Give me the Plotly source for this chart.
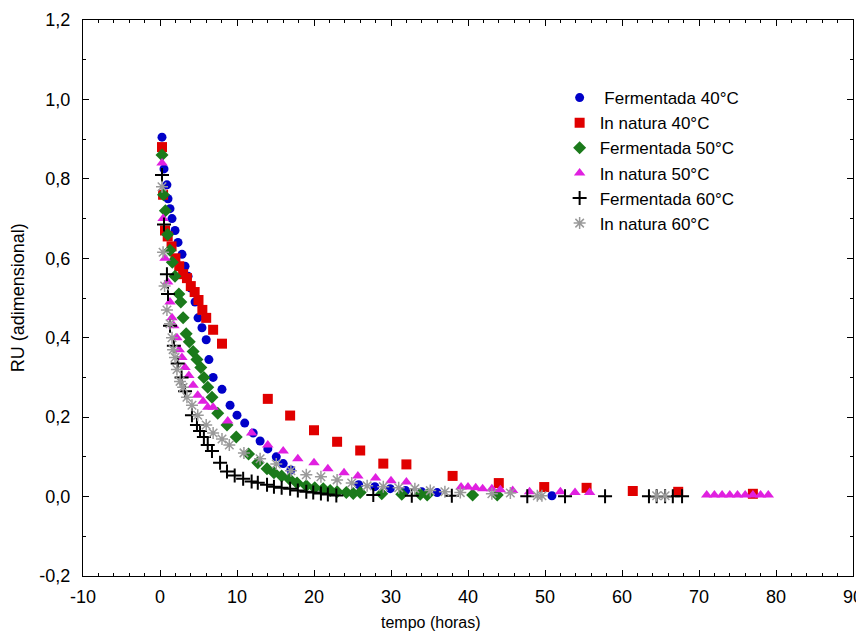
import plotly.graph_objects as go

# Fermentada 40°C
f40_x = [0.26, 0.52, 0.9, 1.04, 1.3, 1.56, 1.95, 2.34, 2.86, 3.25, 3.64, 4.0, 4.55, 4.94, 5.45, 6.0, 6.35, 6.9,
         8.05, 9.1, 10.0, 11.0, 12.1, 13.0, 14.0, 15.1, 16.0, 17.0, 25.8, 27.9, 29.9, 31.9, 34.0, 36.0, 50.9]
f40_y = [0.905, 0.825, 0.785, 0.75, 0.725, 0.70, 0.67, 0.64, 0.61, 0.58, 0.555, 0.525, 0.49, 0.45, 0.425, 0.395, 0.345, 0.30,
         0.27, 0.23, 0.205, 0.185, 0.16, 0.14, 0.12, 0.10, 0.083, 0.067, 0.03, 0.025, 0.02, 0.015, 0.012, 0.01, 0.002]

# In natura 40°C
n40_x = [0.26, 0.4, 0.65, 1.0, 1.5, 2.0, 2.5, 3.0, 3.5, 4.0, 4.5, 5.0, 5.5, 6.0, 6.9, 8.05,
         14.0, 16.9, 20.0, 23.0, 26.0, 29.0, 32.0, 38.0, 44.0, 49.9, 55.4, 61.4, 67.3, 77.0]
n40_y = [0.88, 0.76, 0.67, 0.655, 0.63, 0.60, 0.58, 0.56, 0.55, 0.53, 0.515, 0.495, 0.47, 0.45, 0.42, 0.385,
         0.246, 0.204, 0.167, 0.138, 0.116, 0.083, 0.081, 0.052, 0.034, 0.024, 0.022, 0.014, 0.012, 0.007]

# Fermentada 50°C
f50_x = [0.26, 0.45, 0.7, 1.0, 1.3, 1.6, 1.95, 2.45, 2.7, 3.0, 3.4, 3.8, 4.3, 4.8, 5.3, 5.7, 6.2, 6.75, 7.5, 8.7, 9.9,
         11.5, 12.7, 13.9, 14.8, 15.8, 16.8, 17.8, 19.0, 20.1, 21.2, 22.1, 23.0, 24.2, 25.1, 26.0, 28.8, 31.4, 33.8, 34.7, 40.6, 43.8]
f50_y = [0.86, 0.76, 0.72, 0.66, 0.62, 0.59, 0.555, 0.51, 0.49, 0.45, 0.41, 0.39, 0.365, 0.345, 0.325, 0.30, 0.275, 0.25, 0.21, 0.18, 0.15,
         0.107, 0.085, 0.07, 0.06, 0.052, 0.044, 0.034, 0.027, 0.022, 0.02, 0.015, 0.012, 0.01, 0.008, 0.01, 0.007, 0.006, 0.006, 0.004, 0.004, 0.004]

# In natura 50°C
n50_x = [0.26, 0.4, 0.65, 1.0, 1.3, 1.56, 1.8, 2.2, 2.5, 2.85, 3.25, 3.75, 4.3, 4.9, 5.6, 6.2, 6.9, 8.8,
         11.9, 14.0, 16.0, 17.9, 20.0, 21.8, 23.9, 25.7, 28.0, 30.0, 32.0, 39.1, 40.0, 41.0, 41.9, 43.1, 44.2, 45.8,
         48.0, 52.0, 53.9, 55.8, 71.0, 72.0, 73.0, 74.0, 75.0, 76.0, 77.0, 78.0, 79.0]
n50_y = [0.84, 0.70, 0.60, 0.54, 0.49, 0.45, 0.43, 0.40, 0.37, 0.35, 0.325, 0.305, 0.28, 0.255, 0.24, 0.225, 0.225, 0.19,
         0.16, 0.13, 0.115, 0.095, 0.085, 0.07, 0.06, 0.052, 0.047, 0.04, 0.037, 0.024, 0.024, 0.022, 0.02, 0.02, 0.017, 0.015,
         0.012, 0.012, 0.01, 0.01, 0.004, 0.004, 0.004, 0.004, 0.004, 0.004, 0.004, 0.004, 0.004]

# Fermentada 60°C
f60_x = [0.26, 0.52, 0.9, 1.04, 1.3, 1.8, 2.3, 2.8, 3.25, 4.15, 4.8, 5.2, 5.7, 6.2, 6.75, 7.8, 8.7, 9.7, 10.8, 11.9,
         12.7, 13.9, 14.8, 15.8, 16.9, 17.9, 19.0, 19.9, 20.9, 21.8, 22.9, 27.7, 32.7, 37.9, 47.7, 52.6, 57.8,
         63.5, 64.5, 65.6, 66.6, 67.8]
f60_y = [0.81, 0.685, 0.56, 0.51, 0.43, 0.38, 0.335, 0.30, 0.265, 0.205, 0.18, 0.165, 0.15, 0.13, 0.115, 0.085, 0.063, 0.053, 0.045, 0.038,
         0.035, 0.03, 0.025, 0.022, 0.02, 0.015, 0.012, 0.01, 0.008, 0.005, 0.003, 0.004, 0.002, 0.002, 0.001, 0.001, 0.001,
         0.001, 0.001, 0.001, 0.001, 0.001]

# In natura 60°C
n60_x = [0.26, 0.4, 0.6, 0.9, 1.3, 1.56, 1.7, 1.95, 2.2, 2.6, 3.0, 3.5, 4.15, 4.9, 6.0, 6.9, 8.05, 9.0, 10.9, 13.0,
         15.1, 17.0, 19.0, 20.9, 23.0, 24.9, 26.9, 29.0, 31.0, 33.1, 35.1, 37.0, 39.0, 43.1, 45.5, 49.0, 49.6, 64.5, 65.6]
n60_y = [0.78, 0.615, 0.53, 0.47, 0.435, 0.40, 0.37, 0.35, 0.32, 0.29, 0.275, 0.25, 0.23, 0.205, 0.18, 0.16, 0.145, 0.13, 0.11, 0.095,
         0.082, 0.065, 0.055, 0.05, 0.042, 0.034, 0.027, 0.025, 0.022, 0.02, 0.015, 0.012, 0.01, 0.007, 0.009, 0.002, 0.002, 0.002, 0.002]

x_ticks = [-10, 0, 10, 20, 30, 40, 50, 60, 70, 80, 90]
y_ticks = [-0.2, 0.0, 0.2, 0.4, 0.6, 0.8, 1.0, 1.2]

FONT = "Arial, Liberation Sans, sans-serif"

series = [
    ("\u00a0Fermentada 40°C", f40_x, f40_y, dict(symbol="circle", size=9, color="#0000C8")),
    ("In natura 40°C", n40_x, n40_y, dict(symbol="square", size=10, color="#E00000")),
    ("Fermentada 50°C", f50_x, f50_y, dict(symbol="diamond", size=10, color="#1B7A1B")),
    ("In natura 50°C", n50_x, n50_y, dict(symbol="triangle-up", size=10, color="#E020E0")),
    ("Fermentada 60°C", f60_x, f60_y, dict(symbol="cross-thin-open", size=10, color="black",
                                            line=dict(color="black", width=2))),
    ("In natura 60°C", n60_x, n60_y, dict(symbol="asterisk-open", size=10, color="#9A9A9A",
                                           line=dict(color="#9A9A9A", width=1.5))),
]

fig = go.Figure()
for name, xs, ys, mk in series:
    if "line" not in mk:
        mk = dict(mk, line=dict(width=0))
    fig.add_trace(go.Scatter(x=xs, y=ys, mode="markers", name=name, marker=mk))

axis_common = dict(
    showline=True, linecolor="black", linewidth=1, mirror="ticks",
    ticks="inside", ticklen=6, tickcolor="black", tickwidth=1,
    showgrid=False, zeroline=False, automargin=False,
    tickfont=dict(family=FONT, size=18, color="black"),
)

fig.update_xaxes(range=[-10, 90], tickvals=x_ticks, ticktext=[str(v) for v in x_ticks],
                 minor=dict(dtick=2, ticks="inside", ticklen=3, tickcolor="black", showgrid=False),
                 ticklabelstandoff=4, **axis_common)
fig.update_yaxes(range=[-0.2, 1.2], tickvals=y_ticks, ticktext=[f"{v:.1f}".replace(".", ",") for v in y_ticks],
                 minor=dict(dtick=0.1, tick0=0, ticks="inside", ticklen=3, tickcolor="black", showgrid=False),
                 ticklabelstandoff=8, **axis_common)

# the page body adds an 8 px offset, so the figure is sized to fit the 864x635 window
fig.update_layout(
    width=856, height=627,
    margin=dict(l=75, r=11, t=12, b=59),
    plot_bgcolor="white", paper_bgcolor="white",
    font=dict(family=FONT, size=17, color="black"),
    showlegend=True,
    legend=dict(x=0.619, y=0.892, xanchor="left", yanchor="top", bgcolor="rgba(0,0,0,0)",
                font=dict(family=FONT, size=17, color="black"), tracegroupgap=0),
    annotations=[
        dict(text="tempo (horas)", xref="paper", yref="paper", x=0.452, y=-0.083,
             xanchor="center", yanchor="middle", showarrow=False, font=dict(family=FONT, size=16)),
        dict(text="RU (adimensional)", xref="paper", yref="paper", x=-0.084, y=0.5,
             xanchor="center", yanchor="middle", textangle=-90, showarrow=False, font=dict(family=FONT, size=18)),
    ],
)

fig.write_html("out.html")
